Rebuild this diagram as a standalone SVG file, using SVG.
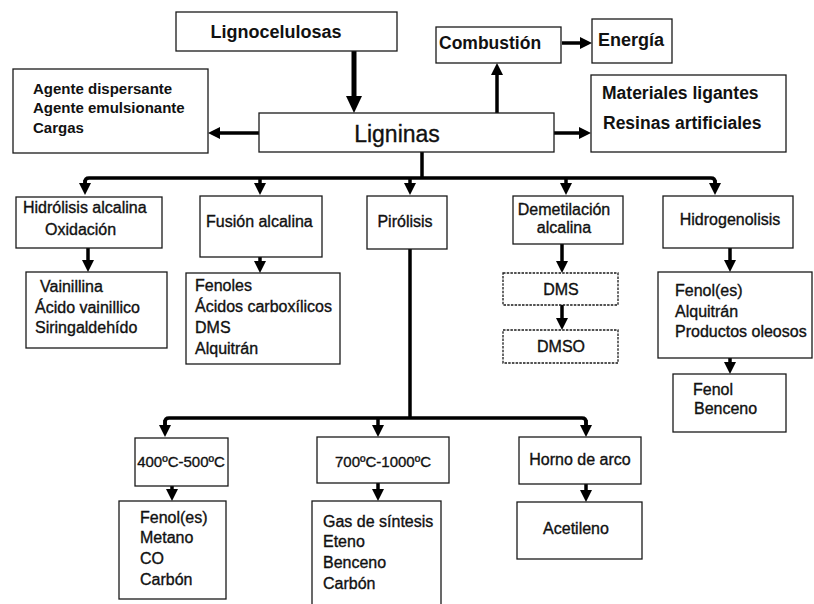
<svg xmlns="http://www.w3.org/2000/svg" width="814" height="604" viewBox="0 0 814 604">
<defs>
<style>
.box{fill:#fff;stroke:#1a1a1a;stroke-width:1.3}
.dot{fill:#fff;stroke:#1a1a1a;stroke-width:1.3;stroke-dasharray:2.5,1.2}
.b{font-family:"Liberation Sans",Arial,sans-serif;font-weight:bold;fill:#111}
.r{font-family:"Liberation Sans",Arial,sans-serif;font-weight:normal;fill:#111;stroke:#111;stroke-width:0.35;font-size:16px}
.c{text-anchor:middle}
.ln{fill:none;stroke:#000;stroke-width:3.5}
.ar{fill:none;stroke:#000;stroke-width:3.5;marker-end:url(#ah)}
</style>
<marker id="ah" markerUnits="userSpaceOnUse" markerWidth="13" markerHeight="13" refX="2" refY="6" orient="auto">
<path d="M0,0 L12,6 L0,12 z" fill="#000"/>
</marker>
<marker id="ahb" markerUnits="userSpaceOnUse" markerWidth="19" markerHeight="19" refX="3" refY="8" orient="auto">
<path d="M0,0 L17,8 L0,16 z" fill="#000"/>
</marker>
</defs>
<rect width="814" height="604" fill="#fff"/>

<g id="connectors">
<path d="M354,51 V99" fill="none" stroke="#000" stroke-width="5" marker-end="url(#ahb)"/>
<path class="ar" d="M259,133 H218"/>
<path class="ar" d="M497,113 V73"/>
<path class="ar" d="M562,43 H582"/>
<path class="ar" d="M554,133 H581"/>
<path class="ln" d="M422,152 V178"/>
<path class="ln" d="M85,184 V182 Q85,178 89,178 H711 Q715,178 715,182 V184"/>
<path class="ar" d="M85,180 V185"/>
<path class="ar" d="M260,178 V185"/>
<path class="ar" d="M410,178 V185"/>
<path class="ar" d="M566,178 V185"/>
<path class="ar" d="M715,180 V185"/>
<path class="ar" d="M88,248 V262"/>
<path class="ar" d="M260,257 V263"/>
<path class="ar" d="M562,244 V263"/>
<path class="ar" d="M562,305 V320"/>
<path class="ar" d="M730,248 V262"/>
<path class="ar" d="M730,358 V364"/>
<path class="ln" d="M410,249 V418"/>
<path class="ln" d="M165,426 V422 Q165,418 169,418 H582 Q586,418 586,422 V426"/>
<path class="ar" d="M165,420 V427"/>
<path class="ar" d="M378,418 V427"/>
<path class="ar" d="M586,420 V427"/>
<path class="ar" d="M172,486 V491"/>
<path class="ar" d="M378,483 V491"/>
<path class="ar" d="M586,484 V492"/>
</g>

<g id="lignocelulosas"><rect class="box" x="176" y="12" width="221" height="39"/><text class="b c" x="276" y="38" font-size="18">Lignocelulosas</text></g>
<g id="ligninas"><rect class="box" x="259" y="113" width="295" height="39"/><text class="r c" x="397" y="142" style="font-size:23px">Ligninas</text></g>
<g id="agente"><rect class="box" x="13" y="69" width="195" height="84"/>
<text class="b" font-size="15" x="33" y="94">Agente dispersante</text>
<text class="b" font-size="15" x="33" y="113">Agente emulsionante</text>
<text class="b" font-size="15" x="33" y="133">Cargas</text></g>
<g id="combustion"><rect class="box" x="436" y="27" width="125" height="36"/><text class="b" font-size="17.5" x="439" y="49">Combustión</text></g>
<g id="energia"><rect class="box" x="592" y="19" width="80" height="44"/><text class="b" font-size="18" x="598" y="46">Energía</text></g>
<g id="materiales"><rect class="box" x="591" y="75" width="195" height="77"/>
<text class="b" font-size="17.5" x="602" y="99">Materiales ligantes</text>
<text class="b" font-size="17.5" x="603" y="129">Resinas artificiales</text></g>

<g id="hidrolisis"><rect class="box" x="16" y="197" width="146" height="51"/>
<text class="r" x="23" y="213">Hidrólisis alcalina</text>
<text class="r" x="45" y="235">Oxidación</text></g>
<g id="fusion"><rect class="box" x="200" y="196" width="122" height="61"/><text class="r" x="206" y="227">Fusión alcalina</text></g>
<g id="pirolisis"><rect class="box" x="367" y="196" width="80" height="53"/><text class="r c" x="405" y="227">Pirólisis</text></g>
<g id="demetilacion"><rect class="box" x="513" y="196" width="110" height="48"/>
<text class="r c" x="564" y="215">Demetilación</text>
<text class="r c" x="564" y="233">alcalina</text></g>
<g id="hidrogenolisis"><rect class="box" x="663" y="196" width="130" height="52"/><text class="r c" x="730" y="225">Hidrogenolisis</text></g>

<g id="vainillina"><rect class="box" x="26" y="272" width="141" height="76"/>
<text class="r" x="40" y="292">Vainillina</text>
<text class="r" x="35" y="313">Ácido vainillico</text>
<text class="r" x="35" y="333">Siringaldehído</text></g>
<g id="fenoles"><rect class="box" x="186" y="273" width="154" height="91"/>
<text class="r" x="195" y="291">Fenoles</text>
<text class="r" x="195" y="312">Ácidos carboxílicos</text>
<text class="r" x="195" y="333">DMS</text>
<text class="r" x="195" y="354">Alquitrán</text></g>
<g id="dms"><rect class="dot" x="503" y="273" width="115" height="32"/><text class="r c" x="561" y="295">DMS</text></g>
<g id="dmso"><rect class="dot" x="503" y="330" width="115" height="33"/><text class="r c" x="561" y="352">DMSO</text></g>
<g id="fenoles-h"><rect class="box" x="658" y="272" width="154" height="86"/>
<text class="r" x="675" y="296">Fenol(es)</text>
<text class="r" x="675" y="317">Alquitrán</text>
<text class="r" x="675" y="337">Productos oleosos</text></g>
<g id="fenol"><rect class="box" x="673" y="374" width="113" height="58"/>
<text class="r" x="693" y="395">Fenol</text>
<text class="r" x="694" y="414">Benceno</text></g>

<g id="t400"><rect class="box" x="135" y="438" width="93" height="48"/><text class="r c" x="181" y="467" style="font-size:15px">400ºC-500ºC</text></g>
<g id="p400"><rect class="box" x="119" y="501" width="107" height="98"/>
<text class="r" x="140" y="523">Fenol(es)</text>
<text class="r" x="140" y="543">Metano</text>
<text class="r" x="140" y="564">CO</text>
<text class="r" x="140" y="585">Carbón</text></g>
<g id="t700"><rect class="box" x="317" y="437" width="132" height="46"/><text class="r c" x="383" y="467" style="font-size:15px">700ºC-1000ºC</text></g>
<g id="p700"><rect class="box" x="312" y="501" width="129" height="106"/>
<text class="r" x="323" y="527">Gas de síntesis</text>
<text class="r" x="323" y="547">Eteno</text>
<text class="r" x="323" y="568">Benceno</text>
<text class="r" x="323" y="589">Carbón</text></g>
<g id="horno"><rect class="box" x="519" y="437" width="122" height="47"/><text class="r c" x="580" y="465">Horno de arco</text></g>
<g id="acetileno"><rect class="box" x="517" y="502" width="125" height="57"/><text class="r c" x="576" y="534">Acetileno</text></g>
</svg>
